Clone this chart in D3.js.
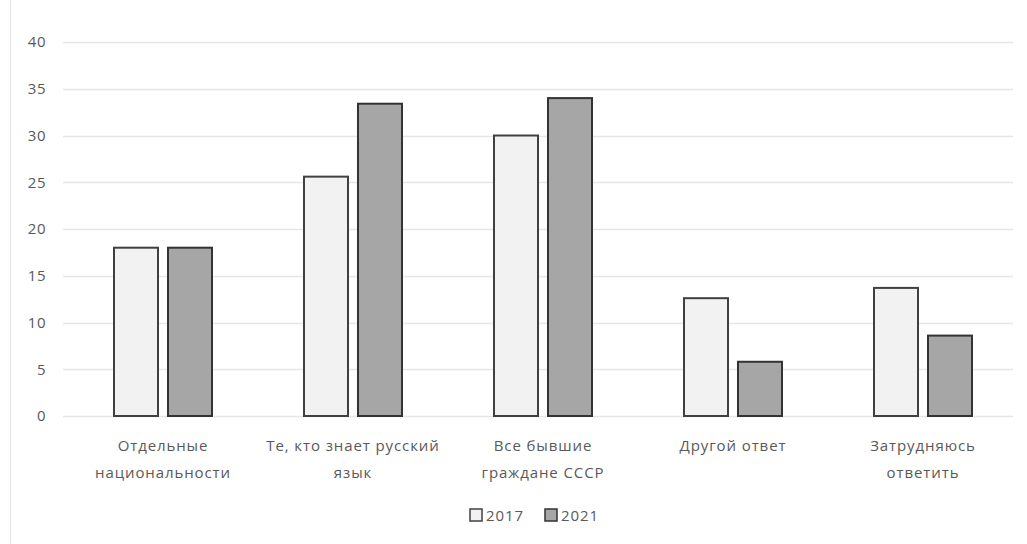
<!DOCTYPE html>
<html><head><meta charset="utf-8">
<script src="https://cdn.jsdelivr.net/npm/d3@7"></script>
<style>body{margin:0;background:#fff;}svg{display:block;font-family:"Open Sans","Liberation Sans",sans-serif;}</style>
</head><body><svg id="c" width="1027" height="544"></svg>
<script>
const categories = [["Отдельные","национальности"],["Те, кто знает русский","язык"],["Все бывшие","граждане СССР"],["Другой ответ"],["Затрудняюсь","ответить"]];
const series = ["2017","2021"];
const values2017 = [18, 25.6, 30, 12.6, 13.7];
const values2021 = [18, 33.4, 34, 5.8, 8.6];
const yTicks = [0,5,10,15,20,25,30,35,40];
const colors = {"2017":"#f2f2f2","2021":"#a6a6a6"};
const strokes = {"2017":"#404040","2021":"#333333"};

const svg = d3.select("#c");
svg.append("line").attr("x1",10.5).attr("x2",10.5).attr("y1",0).attr("y2",544).attr("stroke","#e3e3e3");

const y = d3.scaleLinear().domain([0,40]).range([416,42]);
const x0 = d3.scaleBand().domain(d3.range(categories.length)).range([68,1018]).padding(0);
const x1 = d3.scaleBand().domain(series).range([46,144]).paddingInner(0.185).paddingOuter(0);

// grid
svg.append("g").selectAll("line").data(yTicks).join("line")
  .attr("x1",63).attr("x2",1013).attr("y1",d=>Math.round(y(d))+0.5).attr("y2",d=>Math.round(y(d))+0.5)
  .attr("stroke","#e6e6e6").attr("stroke-width",1.5);

// y axis labels via axis
const ya = svg.append("g").attr("transform","translate(46,0)")
  .call(d3.axisLeft(y).tickValues(yTicks).tickSize(0).tickPadding(0));
ya.select(".domain").remove();
ya.selectAll("text").attr("fill","#595959").attr("font-size","15px").attr("font-family","'Open Sans',sans-serif").attr("letter-spacing","0.5px");

// bars
const data = categories.map((c,i)=>({i, vals:[{s:"2017",v:values2017[i]},{s:"2021",v:values2021[i]}]}));
const g = svg.append("g").selectAll("g").data(data).join("g").attr("transform",d=>`translate(${x0(d.i)},0)`);
g.selectAll("rect").data(d=>d.vals).join("rect")
  .attr("x",d=>x1(d.s)).attr("width",x1.bandwidth())
  .attr("y",d=>y(d.v)).attr("height",d=>y(0)-y(d.v))
  .attr("fill",d=>colors[d.s]).attr("stroke",d=>strokes[d.s]).attr("stroke-width",2);

// x labels
const xl = svg.append("g").selectAll("text").data(categories).join("text")
  .attr("x",(d,i)=>x0(i)+x0.bandwidth()/2).attr("y",451)
  .attr("text-anchor","middle").attr("fill","#595959").attr("font-size","15px").attr("letter-spacing","0.9px");
xl.selectAll("tspan").data(d=>d).join("tspan")
  .attr("x",function(){return this.parentNode.getAttribute("x");})
  .attr("dy",(d,i)=>i?"1.8em":0).text(d=>d);

// legend
const lx = [470,545];
const lg = svg.append("g").selectAll("g").data(series).join("g").attr("transform",(d,i)=>`translate(${lx[i]},509)`);
lg.append("rect").attr("width",12).attr("height",12).attr("fill",d=>colors[d]).attr("stroke",d=>strokes[d]).attr("stroke-width",1.5);
lg.append("text").attr("x",16).attr("y",12).attr("fill","#595959").attr("font-size","15px").attr("letter-spacing","0.9px").text(d=>d);
</script></body></html>
